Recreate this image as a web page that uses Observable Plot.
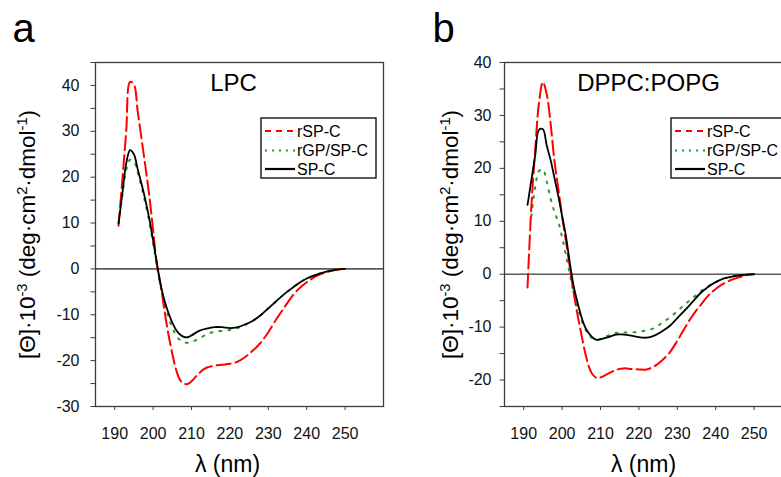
<!DOCTYPE html>
<html>
<head>
<meta charset="utf-8">
<script src="https://cdn.jsdelivr.net/npm/d3@7"></script>
<script src="https://cdn.jsdelivr.net/npm/@observablehq/plot@0.6"></script>
<style>
  html, body { margin: 0; padding: 0; background: #fff; }
  #fig { position: relative; width: 781px; height: 477px; overflow: hidden; background: #fff; }
  .panel { position: absolute; top: 0; }
  .panel svg { max-width: none !important; }
</style>
</head>
<body>
<div id="fig">
  <div class="panel" id="pa" style="left:0px;width:390px"></div>
  <div class="panel" id="pb" style="left:390px;width:420px"></div>
</div>
<script>
const FONT = '"Liberation Sans", Arial, Helvetica, sans-serif';

// Wavelength grid (nm)
const wavelengths = [191,192,193,194,195,196,197,198,199,200,201,202,203,204,205,206,207,208,209,210,
                     212,214,216,218,220,222,224,226,228,230,232,234,236,238,240,242,244,246,248,250];

// Panel a: LPC  ([Θ]·10^-3)
const lpcRSPC = [9.4,19.5,30,40.8,40.2,34.3,28.3,22.3,16,8.5,0.8,-3.6,-9.3,-14.3,-18.5,-22,-24.2,-25,-25.1,-24.5,
                 -22.7,-21.5,-21.1,-20.9,-20.7,-20.2,-19.2,-17.8,-16.1,-13.8,-11.1,-8.6,-6.2,-4.3,-2.9,-1.8,-1.0,-0.5,-0.15,0];
const lpcRGP  = [10,16,21.5,23.8,23.4,21,17.8,14.2,10.2,5.6,0.8,-4,-7.6,-10.5,-12.8,-14.5,-15.5,-16,-16.1,-15.9,
                 -15.2,-14.2,-13.7,-13.5,-13.3,-12.9,-12.2,-11.3,-10.1,-8.6,-7.1,-5.6,-4.3,-3.1,-2.1,-1.4,-0.85,-0.45,-0.15,0];
const lpcSPC  = [9.9,16.5,23,25.9,25.0,21.7,18.5,15,11,6.2,1.2,-3.6,-7,-9.6,-11.7,-13.3,-14.3,-14.8,-14.9,-14.5,
                 -13.5,-13.0,-12.7,-12.7,-12.9,-12.7,-12.1,-11.3,-10.1,-8.6,-7.1,-5.6,-4.3,-3.1,-2.1,-1.4,-0.85,-0.45,-0.15,0];

// Panel b: DPPC:POPG
const dpRSPC = [-2.5,12.8,23.5,32.5,36.3,34,28.5,21.4,16.2,11,6.2,1.4,-3.4,-7.6,-11.3,-14.8,-17.5,-19,-19.6,-19.5,
                -18.8,-18.1,-17.8,-17.9,-18.0,-18.0,-17.4,-16.3,-14.8,-12.6,-10.1,-7.8,-5.9,-4.1,-2.8,-1.8,-1.1,-0.6,-0.2,0];
const dpRGP  = [null,11,16.5,19.5,19.8,17.5,14.3,11.8,9.9,7.0,3.6,0,-3.5,-6.2,-8.6,-10.3,-11.5,-12.1,-12.4,-12.2,
                -11.6,-11.1,-11.0,-11.0,-10.9,-10.6,-10.2,-9.2,-8.2,-7.0,-5.7,-4.5,-3.3,-2.3,-1.5,-0.85,-0.5,-0.25,-0.1,0];
const dpSPC  = [13.1,17.8,22.5,27.3,27.4,24.3,21.6,18.2,14.8,11,7.2,2.2,-2.2,-5.3,-8,-10,-11.2,-12,-12.4,-12.3,
                -11.9,-11.4,-11.4,-11.6,-11.9,-12.0,-11.6,-10.8,-9.8,-8.3,-6.8,-5.2,-3.6,-2.4,-1.5,-0.85,-0.5,-0.25,-0.1,0];

const seriesNames = ["rSP-C", "rGP/SP-C", "SP-C"];
const xTicks = [190, 200, 210, 220, 230, 240, 250];
const yTicksA = [-30,-25,-20,-15,-10,-5,0,5,10,15,20,25,30,35,40,45];
const yTicksB = [-25,-20,-15,-10,-5,0,5,10,15,20,25,30,35,40];
const xLabel = "λ (nm)";
const yLabelPlain = "[Θ]·10-3 (deg·cm2·dmol-1)";
const yLabelParts = [["[Θ]·10", false], ["-3", true], [" (deg·cm", false], ["2", true], ["·dmol", false], ["-1", true], [")", false]];

const styles = {
  "rSP-C":    {stroke: "#ff0000", strokeWidth: 2, dash: "14,5", legendDash: "6,5"},
  "rGP/SP-C": {stroke: "#2a9a2a", strokeWidth: 2, dash: "2,7",  legendDash: "2,5"},
  "SP-C":     {stroke: "#000000", strokeWidth: 1.8, dash: null, legendDash: null}
};

function buildRows(valuesBySeries) {
  const rows = [];
  seriesNames.forEach((name, k) => {
    valuesBySeries[k].forEach((v, i) => {
      if (v != null) rows.push({series: name, wl: wavelengths[i], value: v});
    });
  });
  return rows;
}

function legendMark(x0) {
  return () => {
    const g = d3.create("svg:g");
    g.append("rect").attr("x", x0).attr("y", 118).attr("width", 115).attr("height", 60)
      .attr("fill", "white").attr("stroke", "#000").attr("stroke-width", 1.3);
    const rowsY = [131, 150.5, 169];
    seriesNames.forEach((name, i) => {
      const s = styles[name];
      const line = g.append("line").attr("x1", x0 + 4).attr("x2", x0 + 34)
        .attr("y1", rowsY[i]).attr("y2", rowsY[i])
        .attr("stroke", s.stroke).attr("stroke-width", 2.2);
      if (s.legendDash) line.attr("stroke-dasharray", s.legendDash);
      g.append("text").attr("x", x0 + 36).attr("y", rowsY[i]).attr("dy", "0.36em")
        .attr("text-anchor", "start")
        .attr("font-size", 16).attr("font-family", FONT).attr("fill", "#000").text(name);
    });
    return g.node();
  };
}

function makePanel(cfg) {
  const rows = buildRows(cfg.values);
  const lineMarks = ["rGP/SP-C", "rSP-C", "SP-C"].map(name => {
    const s = styles[name];
    const o = {x: "wl", y: "value", stroke: s.stroke, strokeWidth: s.strokeWidth, curve: "catmull-rom",
               filter: d => d.series === name};
    if (s.dash) o.strokeDasharray = s.dash;
    return Plot.line(rows, o);
  });
  const svg = Plot.plot({
    width: cfg.width, height: 477,
    marginTop: 62, marginBottom: 71, marginLeft: cfg.marginLeft, marginRight: cfg.marginRight,
    style: {fontFamily: FONT, fontSize: "16px", color: "#000", background: "transparent", overflow: "visible", maxWidth: "none"},
    x: {domain: [185, 260], label: null},
    y: {domain: cfg.yDomain, label: null},
    marks: [
      Plot.ruleY([0], {stroke: "#5a5a5a", strokeWidth: 1.6}),
      ...lineMarks,
      Plot.frame({stroke: "#3c3c3c", strokeWidth: 1.3}),
      Plot.axisX({ticks: xTicks, tickSize: 4, tickPadding: 17, label: null, fontSize: 16, stroke: "#3c3c3c", fill: "#111"}),
      Plot.axisY({ticks: cfg.yTicks, tickSize: 4.5, tickPadding: cfg.yTickPadding, label: null, fontSize: 16,
                  stroke: "#3c3c3c", fill: "#111", tickFormat: d => (d % 10 === 0 ? String(d) : "")}),
      Plot.text([cfg.title], {text: d => d, frameAnchor: "top-left", dx: cfg.titleDx, dy: 21, fontSize: 24,
                              textAnchor: "middle", lineAnchor: "middle", fill: "#000"}),
      Plot.text([cfg.letter], {text: d => d, frameAnchor: "top-left", dx: cfg.letterDx, dy: -33, fontSize: 40,
                               textAnchor: "start", lineAnchor: "middle", fill: "#000"}),
      Plot.text([xLabel], {text: d => d, frameAnchor: "bottom", dx: cfg.xLabelDx, dy: 58, fontSize: 23,
                           textAnchor: "middle", lineAnchor: "middle", fill: "#000"}),
      Plot.text([yLabelPlain], {text: d => d, frameAnchor: "left", dx: cfg.yLabelDx, rotate: -90, fontSize: 22.5,
                                textAnchor: "middle", lineAnchor: "middle", fill: "#000"}),
      legendMark(cfg.legendX)
    ]
  });
  // superscripts in the y label
  svg.querySelectorAll("text").forEach(t => {
    if (t.textContent === yLabelPlain) {
      t.textContent = "";
      yLabelParts.forEach(([str, sup]) => {
        const ts = document.createElementNS("http://www.w3.org/2000/svg", "tspan");
        ts.textContent = str;
        if (sup) { ts.setAttribute("font-size", "65%"); ts.setAttribute("baseline-shift", "super"); }
        t.appendChild(ts);
      });
    }
  });
  return svg;
}

document.getElementById("pa").appendChild(makePanel({
  width: 390, marginLeft: 95, marginRight: 7,
  yDomain: [-30, 45], yTicks: yTicksA, yTickPadding: 11.5,
  values: [lpcRSPC, lpcRGP, lpcSPC],
  title: "LPC", titleDx: 138, letter: "a", letterDx: -83,
  xLabelDx: -12, yLabelDx: -68, legendX: 261
}));

document.getElementById("pb").appendChild(makePanel({
  width: 420, marginLeft: 114, marginRight: 18,
  yDomain: [-25, 40], yTicks: yTicksB, yTickPadding: 8.5,
  values: [dpRSPC, dpRGP, dpSPC],
  title: "DPPC:POPG", titleDx: 144, letter: "b", letterDx: -72,
  xLabelDx: -5, yLabelDx: -54, legendX: 281
}));
</script>
</body>
</html>
